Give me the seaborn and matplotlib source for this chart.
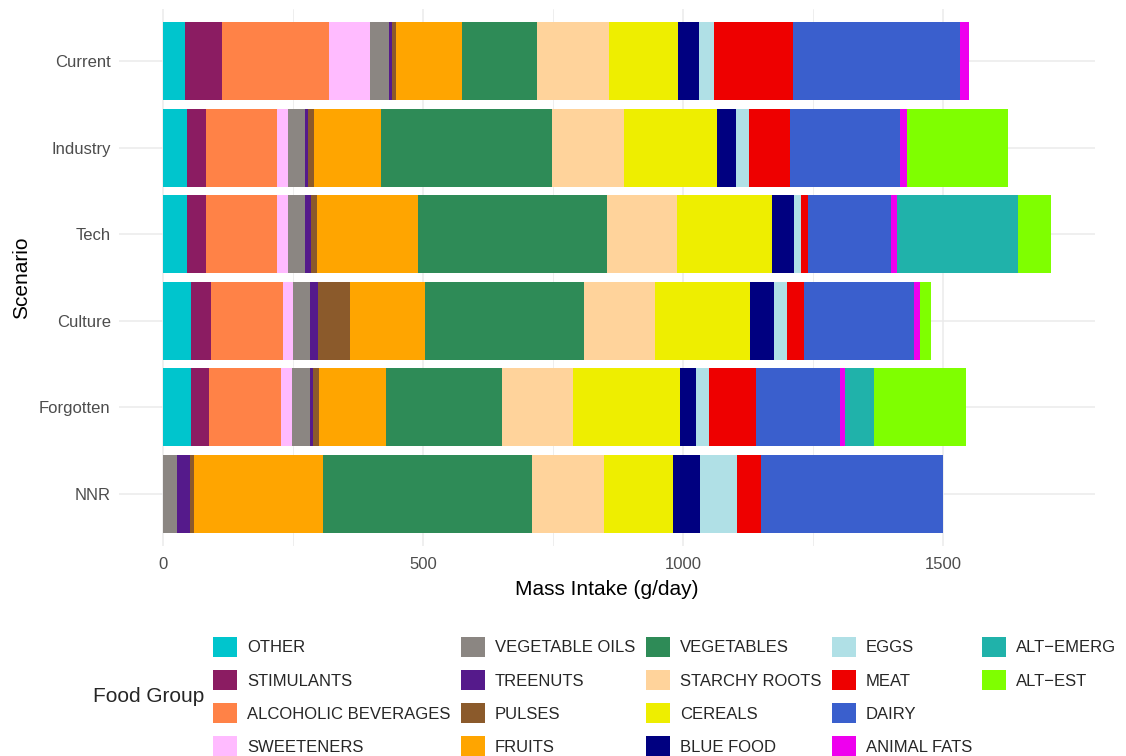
import pandas as pd
import numpy as np
import matplotlib.pyplot as plt
import seaborn as sns
from matplotlib.patches import Patch

# grupos de alimentos, en el orden en que se apilan (izquierda -> derecha)
grupos = ['OTHER', 'STIMULANTS', 'ALCOHOLIC BEVERAGES', 'SWEETENERS', 'VEGETABLE OILS',
          'TREENUTS', 'PULSES', 'FRUITS', 'VEGETABLES', 'STARCHY ROOTS', 'CEREALS',
          'BLUE FOOD', 'EGGS', 'MEAT', 'DAIRY', 'ANIMAL FATS', 'ALT-EMERG', 'ALT-EST']

colores = ['#00C5CD', '#8B1C62', '#FF8247', '#FFBBFF', '#8B8682',
           '#551A8B', '#8B5A2B', '#FFA500', '#2E8B57', '#FFD39B', '#EEEE00',
           '#000080', '#B0E0E6', '#EE0000', '#3A5FCD', '#EE00EE', '#20B2AA', '#7FFF00']

escenarios = ['Current', 'Industry', 'Tech', 'Culture', 'Forgotten', 'NNR']

# g/day por grupo, mismo orden que `grupos`
current = [41, 71, 206, 79, 38, 4, 8, 127, 144, 139, 133, 40, 29, 153, 320, 18, 0, 0]
industry = [45, 37, 137, 21, 33, 6, 11, 129, 329, 138, 180, 35, 25, 79, 212, 13, 0, 195]
tech = [45, 37, 137, 21, 33, 11, 11, 194, 364, 136, 181, 44, 12, 15, 159, 12, 233, 62]
culture = [54, 37, 139, 19, 33, 15, 62, 144, 306, 137, 183, 46, 25, 33, 212, 11, 0, 21]
forgotten = [53, 35, 139, 21, 35, 4, 13, 129, 223, 137, 204, 31, 25, 92, 160, 10, 56, 177]
nnr = [0, 0, 0, 0, 27, 25, 6, 250, 402, 137, 133, 52, 71, 46, 350, 0, 0, 0]

valores = pd.DataFrame([current, industry, tech, culture, forgotten, nnr],
                       index=escenarios, columns=grupos)
acumulado = valores.cumsum(axis=1)

sns.set_theme(style='whitegrid')
plt.rcParams['font.family'] = ['Liberation Sans', 'DejaVu Sans']

fig = plt.figure(figsize=(11.26, 7.56), dpi=100)
ax = fig.add_axes([0.1057, 0.2778, 0.8668, 0.7102])

# barras apiladas: se dibuja el acumulado de mayor a menor, cada una encima de la anterior
for grupo, color in reversed(list(zip(grupos, colores))):
    df = pd.DataFrame({'Scenario': escenarios, 'cum': acumulado[grupo].values})
    sns.barplot(data=df, x='cum', y='Scenario', order=escenarios, color=color,
                width=0.9, saturation=1, errorbar=None, linewidth=0, ax=ax)

maximo = acumulado.iloc[:, -1].max()
ax.set_xlim(-0.05 * maximo, 1.05 * maximo)
ax.set_ylim(len(escenarios) - 0.4, -0.6)

ax.set_xticks([0, 500, 1000, 1500])
ax.set_xticks([250, 750, 1250], minor=True)
ax.grid(which='major', color='#EBEBEB', linewidth=1.1)
ax.grid(which='minor', axis='x', color='#EBEBEB', linewidth=0.6)
ax.set_axisbelow(True)
for s in ax.spines.values():
    s.set_visible(False)
ax.tick_params(axis='both', which='both', length=0, labelsize=12, labelcolor='#4D4D4D')
ax.tick_params(axis='x', pad=8)
ax.tick_params(axis='y', pad=6)

ax.set_xlabel('Mass Intake (g/day)', fontsize=15, color='black', labelpad=6)
ax.set_ylabel('Scenario', fontsize=15, color='black', labelpad=6)

# leyenda abajo, 5 columnas, llenando por columnas (4 filas)
handles = [Patch(facecolor=c, edgecolor='none') for c in colores]
etiquetas = [g.replace('-', '\u2212') for g in grupos]
handles += [Patch(facecolor='none', edgecolor='none')] * 2
etiquetas += ['', '']
fig.legend(handles, etiquetas, ncol=5, loc='upper left',
           bbox_to_anchor=(213 / 1126, 1 - 637 / 756), frameon=False,
           fontsize=12, handlelength=1.45, handleheight=1.45, handletextpad=0.6,
           columnspacing=0.62, labelspacing=0.8, borderpad=0, borderaxespad=0)
fig.text(93 / 1126, 1 - 697 / 756, 'Food Group', fontsize=15, ha='left', va='center')

fig.savefig('out.png', dpi=100)
